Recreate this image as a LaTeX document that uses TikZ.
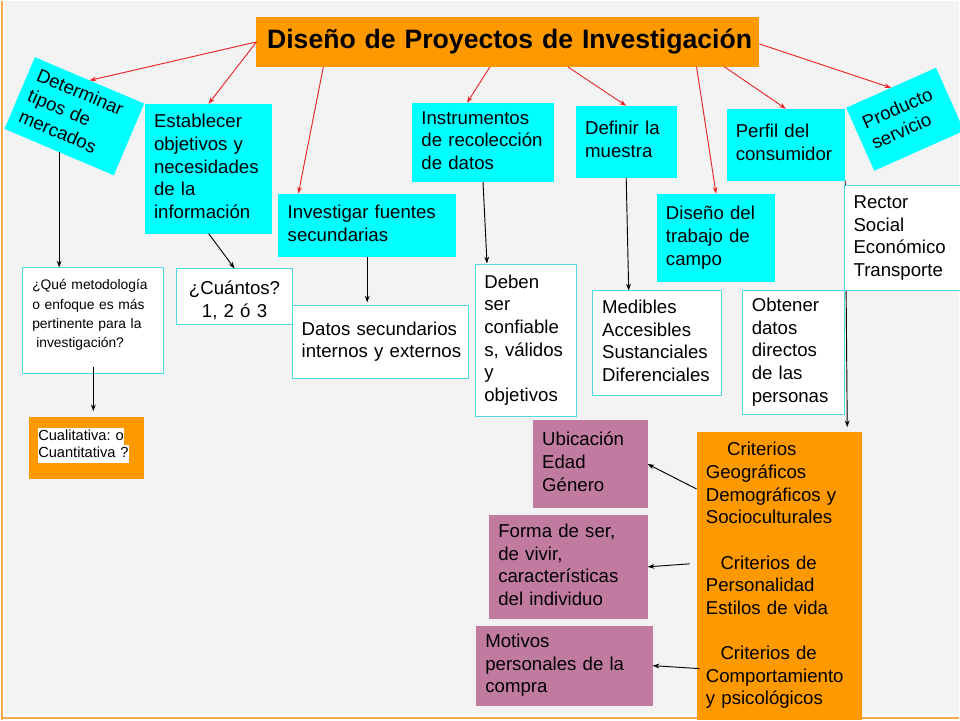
\documentclass[tikz,border=0pt]{standalone}
\usepackage{fontspec}
\setmainfont{Liberation Sans}
\usetikzlibrary{arrows.meta,calc}
\definecolor{bgc}{HTML}{F3F3F3}
\definecolor{cy}{HTML}{00FFFF}
\definecolor{cyb}{HTML}{4DD9E6}
\definecolor{og}{HTML}{FF9900}
\definecolor{mv}{HTML}{C27BA0}
\definecolor{rd}{HTML}{E8262B}
\definecolor{ogl}{HTML}{F6A94F}
\pgfdeclarelayer{bg}
\pgfsetlayers{bg,main}
\frenchspacing
\newcommand\boxlines[1]{\begin{tabular}{@{}l@{}}#1\end{tabular}}
\newcommand\vmove[2]{\raisebox{#1}[\height][\depth]{#2}}
\newcommand\dbox[7]{\node[#2, anchor=north west, minimum width=#5*0.75pt, minimum height=#6*0.75pt, text width=#5*0.75pt-14pt] (#1) at (#3,#4) {#7};}
\begin{document}
\begin{tikzpicture}[x=0.75pt,y=-0.75pt,
 base/.style={inner xsep=7pt, inner ysep=1pt, outer sep=0pt, align=left, font=\fontsize{14}{17}\selectfont},
 cyanbox/.style={base, fill=cy},
 whitebox/.style={base, fill=white, draw=cyb, line width=0.75pt},
 orangebox/.style={base, fill=og},
 mauvebox/.style={base, fill=mv},
 redarr/.style={draw=rd, line width=0.7pt, -{Stealth[length=5pt,width=3.6pt]}},
 blkarr/.style={draw=black, line width=0.7pt, -{Stealth[length=5pt,width=3.6pt]}},
]
\begin{pgfonlayer}{bg}
 \fill[white] (0,0) rectangle (960,720);
 \fill[bgc] (4,0) rectangle (960,714);
 \draw[ogl, line width=1.5pt] (1.5,0) -- (1.5,720);
 \draw[ogl, line width=1.5pt] (0,718.5) -- (960,718.5);
\end{pgfonlayer}
\useasboundingbox (0,0) rectangle (960,720);

\node[orangebox, anchor=north west, minimum width=504*0.75pt, minimum height=50*0.75pt, text width=504*0.75pt-16pt, inner xsep=8pt, font=\fontsize{20}{24}\bfseries] (title) at (256,16) {\boxlines{Diseño de Proyectos de Investigación}};

\node[cyanbox, rotate=-23, minimum width=119*0.75pt, minimum height=78*0.75pt, text width=119*0.75pt-14pt] (det) at (73.5,115.5) {\boxlines{Determinar\\tipos de\\mercados}};
\dbox{est}{cyanbox}{144}{103}{128}{130}{\boxlines{Establecer\\objetivos y\\necesidades\\de la\\información}}
\dbox{inv}{cyanbox}{278}{193}{178}{64}{\boxlines{Investigar fuentes\\secundarias}}
\dbox{ins}{cyanbox}{412}{102}{142}{79}{\boxlines{Instrumentos\\de recolección\\de datos}}
\dbox{def}{cyanbox}{576}{105}{101}{72}{\boxlines{Definir la\\muestra}}
\dbox{per}{cyanbox}{727}{108}{119}{72}{\boxlines{Perfil del\\consumidor}}
\node[cyanbox, rotate=24, minimum width=98.5*0.75pt, minimum height=69*0.75pt, text width=98.5*0.75pt-14pt] (prod) at (906,118.5) {\boxlines{Producto\\servicio}};
\dbox{dis}{cyanbox}{657}{193}{119}{89}{\boxlines{Diseño del\\trabajo de\\campo}}
\dbox{rec}{whitebox}{845}{185}{117}{105}{\boxlines{Rector\\Social\\Económico\\Transporte}}
\dbox{med}{whitebox}{593}{290}{129}{105}{\boxlines{Medibles\\Accesibles\\Sustanciales\\Diferenciales}}
\dbox{obt}{whitebox}{743}{290}{102}{124}{\boxlines{Obtener\\datos\\directos\\de las\\personas}}
\dbox{deb}{whitebox}{475}{264}{102}{152}{\boxlines{Deben\\ser\\confiable\\s, válidos\\y\\objetivos}}
\dbox{dat}{whitebox}{292}{305}{176}{73}{\boxlines{Datos secundarios\\internos y externos}}
\dbox{cua}{whitebox, align=center}{176}{268}{116}{56}{\vmove{-4pt}{\begin{tabular}{@{}c@{}}¿Cuántos?\\1, 2 ó 3\end{tabular}}}
\dbox{que}{whitebox, font=\fontsize{10.4}{14.5}\selectfont}{22}{267}{141}{106}{\vmove{4pt}{\boxlines{¿Qué metodología\\o enfoque es más\\pertinente para la\\\hspace{3pt}investigación?}}}
\dbox{cual}{orangebox, font=\fontsize{11}{13}\selectfont}{28}{417}{115}{62}{\setlength\fboxsep{0pt}\vmove{2pt}{\boxlines{\colorbox{white}{\strut Cualitativa: o}\\\colorbox{white}{\strut Cuantitativa ?}}}}
\dbox{ubi}{mauvebox}{533}{420}{115}{88}{\boxlines{Ubicación\\Edad\\Género}}
\dbox{forma}{mauvebox}{489}{515}{159}{104}{\boxlines{Forma de ser,\\de vivir,\\características\\del individuo}}
\dbox{mot}{mauvebox}{476}{626}{177}{80}{\boxlines{Motivos\\personales de la\\compra}}
\dbox{cri}{orangebox}{697}{432}{166}{288}{\boxlines{\hspace{16pt}Criterios\\Geográficos\\Demográficos y\\Socioculturales\\ \\\hspace{11pt}Criterios de\\Personalidad\\Estilos de vida\\ \\\hspace{11pt}Criterios de\\Comportamiento\\y psicológicos}}

\draw[redarr] (title.west) -- (det.north);
\draw[redarr] (title.west) -- (est.north);
\draw[redarr] ($(title.south west)+(67,0)$) -- ($(inv.north west)+(20,0)$);
\draw[redarr] ($(title.south west)+(234,0)$) -- ($(ins.north west)+(55,0)$);
\draw[redarr] ($(title.south west)+(312,0)$) -- (def.north);
\draw[redarr] ($(title.south west)+(441,0)$) -- (dis.north);
\draw[redarr] ($(title.south west)+(469,0)$) -- (per.north);
\draw[redarr] ($(title.east)+(0,2)$) -- (prod.north);

\coordinate (qa) at (det.south |- que.north);
\coordinate (qb) at (que.south |- cual.north);
\coordinate (qc) at (inv.south |- dat.north);
\coordinate (qd) at (per.south east |- cri.north);
\draw[blkarr] (det.south) -- (qa);
\draw[blkarr] ($(que.south)+(0,-6)$) -- ($(qb)+(0,-6)$);
\draw[blkarr] (est.south) -- (cua.north);
\draw[blkarr] (inv.south) -- ($(qc)+(0,-3)$);
\draw[blkarr] (ins.south) -- ($(deb.north west)+(12,-1)$);
\draw[blkarr] (def.south) -- ($(med.north west)+(36,0)$);
\begin{pgfonlayer}{bg}
\draw[blkarr] (per.south east) -- ($(qd)+(2,-5)$);
\end{pgfonlayer}
\draw[blkarr] ($(cri.north west)+(0,57)$) -- (ubi.east);
\draw[blkarr] ($(cri.north west)+(-7,132)$) -- (forma.east);
\draw[blkarr] ($(cri.north west)+(3,237)$) -- (mot.east);
\end{tikzpicture}
\end{document}
